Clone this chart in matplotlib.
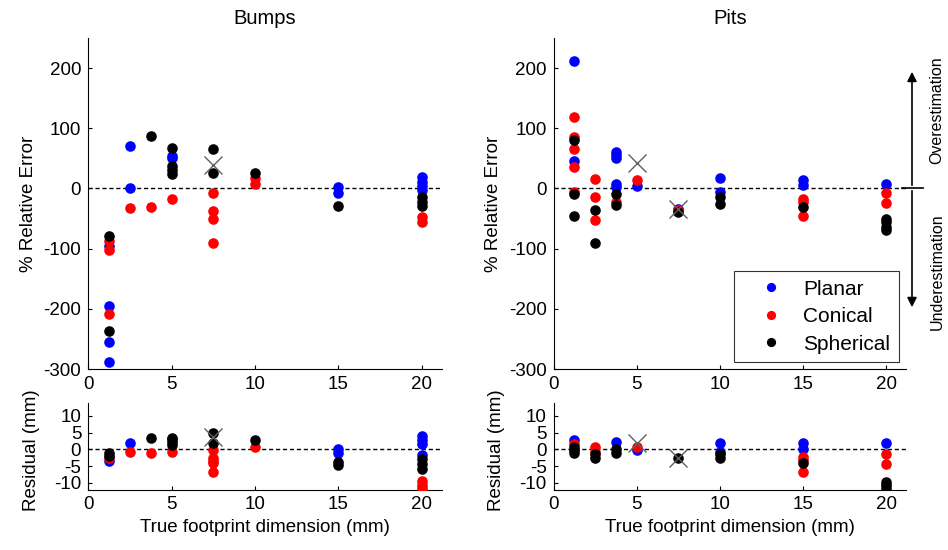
import matplotlib
matplotlib.use("Agg")
import matplotlib.pyplot as plt

plt.rcParams['font.family'] = ['Liberation Sans', 'DejaVu Sans']
plt.rcParams['axes.unicode_minus'] = False

# ---------------- Data ----------------
# Bumps: % relative error
bumps_planar_x = [1.25, 1.25, 1.25, 1.25, 2.5, 2.5, 5, 5, 15, 15, 20, 20, 20, 20]
bumps_planar_err = [-95, -195, -255, -288, 70, 0, 54, 50, 3, -8, 19, 11, 4, -3]
bumps_conical_x = [1.25, 1.25, 1.25, 2.5, 3.75, 5, 7.5, 7.5, 7.5, 7.5, 10, 10, 20, 20]
bumps_conical_err = [-88, -102, -208, -33, -31, -17, -7, -37, -51, -90, 17, 8, -47, -55]
bumps_spherical_x = [1.25, 1.25, 3.75, 5, 5, 5, 5, 7.5, 7.5, 10, 15, 20, 20, 20]
bumps_spherical_err = [-79, -237, 87, 67, 37, 30, 24, 65, 25, 26, -29, -14, -22, -29]
bumps_outlier_x = [7.5]
bumps_outlier_err = [39]

# Bumps: residual (mm)
bumps_planar_rx = [1.25, 2.5, 5, 15, 15, 20, 20, 20, 20]
bumps_planar_res = [-3.4, 1.8, 3.0, 0.0, -1.2, 4.0, 2.8, 1.6, -1.7]
bumps_conical_rx = [1.25, 2.5, 3.75, 5, 7.5, 7.5, 7.5, 7.5, 7.5, 10, 20, 20, 20]
bumps_conical_res = [-2.7, -0.7, -1.2, -0.7, -0.2, -2.7, -3.4, -4.0, -6.7, 0.8, -9.4, -10.7, -11.6]
bumps_spherical_rx = [1.25, 1.25, 3.75, 5, 5, 5, 7.5, 7.5, 10, 15, 15, 20, 20, 20]
bumps_spherical_res = [-1.0, -2.0, 3.5, 3.5, 2.3, 1.3, 5.0, 2.0, 2.8, -3.7, -4.7, -3.0, -4.4, -6.0]
bumps_outlier_rx = [7.5]
bumps_outlier_res = [3.8]

# Pits: % relative error
pits_planar_x = [1.25, 1.25, 3.75, 3.75, 3.75, 3.75, 3.75, 5, 7.5, 10, 10, 15, 15, 20]
pits_planar_err = [211, 46, 61, 55, 50, 7, 3, 4, -34, 18, -6, 14, 6, 7]
pits_conical_x = [1.25, 1.25, 1.25, 1.25, 1.25, 2.5, 2.5, 2.5, 3.75, 5, 7.5, 15, 15, 15, 20, 20]
pits_conical_err = [118, 85, 65, 36, -6, 16, -15, -53, -22, 14, -36, -17, -22, -46, -8, -24]
pits_spherical_x = [1.25, 1.25, 1.25, 2.5, 2.5, 3.75, 3.75, 7.5, 10, 10, 15, 20, 20, 20, 20]
pits_spherical_err = [81, -10, -46, -35, -90, -10, -27, -39, -14, -26, -30, -50, -55, -64, -69]
pits_outlier_x = [5, 7.5]
pits_outlier_err = [43, -34]

# Pits: residual (mm)
pits_planar_rx = [1.25, 3.75, 5, 10, 10, 15, 15, 20]
pits_planar_res = [2.8, 2.1, -0.2, 1.8, -0.7, 2.0, 0.0, 2.0]
pits_conical_rx = [1.25, 2.5, 2.5, 5, 15, 15, 15, 20, 20]
pits_conical_res = [1.5, 0.8, -0.7, 0.6, -2.2, -3.2, -6.7, -1.4, -4.4]
pits_spherical_rx = [1.25, 1.25, 1.25, 2.5, 2.5, 3.75, 3.75, 7.5, 10, 10, 15, 20, 20, 20]
pits_spherical_res = [0.8, -0.2, -1.0, -1.4, -2.5, 0.0, -1.2, -2.7, -1.5, -2.7, -4.2, -9.7, -10.6, -11.6]
pits_outlier_rx = [5, 7.5]
pits_outlier_res = [1.8, -2.7]

series_labels = ['Planar', 'Conical', 'Spherical']
series_colors = ['#0000ff', '#ff0000', '#000000']
x_ticks = [0, 5, 10, 15, 20]
err_ticks = [-300, -200, -100, 0, 100, 200]
res_ticks = [-10, -5, 0, 5, 10]

# ---------------- Figure ----------------
fig = plt.figure(figsize=(9.48, 5.5), dpi=100)
FS = 13.5
MS = 6.6

def style(ax):
    for s in ['top', 'right']:
        ax.spines[s].set_visible(False)
    ax.tick_params(direction='in', length=3, labelsize=FS, pad=5)
    ax.axhline(0, color='black', ls=(0, (3, 2)), lw=1, zorder=1)
    ax.set_xlim(0, 21.2)
    ax.set_xticks(x_ticks)

def draw_top(ax, data, outx, outy, title):
    for (xs, ys), c, lab in zip(data, series_colors, series_labels):
        ax.plot(xs, ys, 'o', color=c, ms=MS, mec=c, ls='none', label=lab, zorder=3)
    ax.plot(outx, outy, 'x', color='#606060', ms=12.5, mew=1.0, zorder=4)
    ax.set_ylim(-300, 250)
    ax.set_yticks(err_ticks)
    ax.set_ylabel('% Relative Error', fontsize=FS)
    ax.set_title(title, fontsize=14.5, pad=10)
    style(ax)

def draw_bot(ax, data, outx, outy):
    for (xs, ys), c in zip(data, series_colors):
        ax.plot(xs, ys, 'o', color=c, ms=MS, mec=c, ls='none', zorder=3)
    ax.plot(outx, outy, 'x', color='#606060', ms=12.5, mew=1.0, zorder=4)
    ax.set_ylim(-12, 14)
    ax.set_yticks(res_ticks)
    ax.set_ylabel('Residual (mm)', fontsize=FS)
    ax.set_xlabel('True footprint dimension (mm)', fontsize=FS)
    style(ax)

axL = fig.add_axes([0.093, 0.329, 0.373, 0.602])
axR = fig.add_axes([0.584, 0.329, 0.372, 0.602])
axLb = fig.add_axes([0.093, 0.110, 0.373, 0.158])
axRb = fig.add_axes([0.584, 0.110, 0.372, 0.158])

draw_top(axL, [(bumps_planar_x, bumps_planar_err), (bumps_conical_x, bumps_conical_err),
               (bumps_spherical_x, bumps_spherical_err)], bumps_outlier_x, bumps_outlier_err, 'Bumps')
draw_top(axR, [(pits_planar_x, pits_planar_err), (pits_conical_x, pits_conical_err),
               (pits_spherical_x, pits_spherical_err)], pits_outlier_x, pits_outlier_err, 'Pits')
draw_bot(axLb, [(bumps_planar_rx, bumps_planar_res), (bumps_conical_rx, bumps_conical_res),
                (bumps_spherical_rx, bumps_spherical_res)], bumps_outlier_rx, bumps_outlier_res)
draw_bot(axRb, [(pits_planar_rx, pits_planar_res), (pits_conical_rx, pits_conical_res),
                (pits_spherical_rx, pits_spherical_res)], pits_outlier_rx, pits_outlier_res)

for ax in (axL, axR):
    ax.yaxis.set_label_coords(-0.145, 0.5)
for ax in (axLb, axRb):
    ax.yaxis.set_label_coords(-0.137, 0.45)

leg = axR.legend(loc='lower right', bbox_to_anchor=(0.978, 0.021), fontsize=15, frameon=True,
                 fancybox=False, edgecolor='black', handletextpad=0.16, borderpad=0.4,
                 labelspacing=0.41, handlelength=2.75, markerscale=0.85, borderaxespad=0)
leg.get_frame().set_linewidth(0.8)

# Over/Under-estimation annotation
W, H = 948.0, 550.0
fig.add_artist(plt.Line2D([902 / W, 923 / W], [1 - 188 / H, 1 - 188 / H], color='black', lw=1.2))
axR.annotate('', xy=(912 / W, 1 - 69 / H), xytext=(912 / W, 1 - 188 / H), xycoords='figure fraction',
             textcoords='figure fraction',
             arrowprops=dict(arrowstyle='-|>', color='black', lw=1.2, mutation_scale=14))
axR.annotate('', xy=(912 / W, 1 - 310 / H), xytext=(912 / W, 1 - 188 / H), xycoords='figure fraction',
             textcoords='figure fraction',
             arrowprops=dict(arrowstyle='-|>', color='black', lw=1.2, mutation_scale=14))
fig.text(937 / W, 1 - 110 / H, 'Overestimation', rotation=90, ha='center', va='center', fontsize=11.5)
fig.text(937 / W, 1 - 272 / H, 'Underestimation', rotation=90, ha='center', va='center', fontsize=11.5)

fig.savefig('out.png', dpi=100)
